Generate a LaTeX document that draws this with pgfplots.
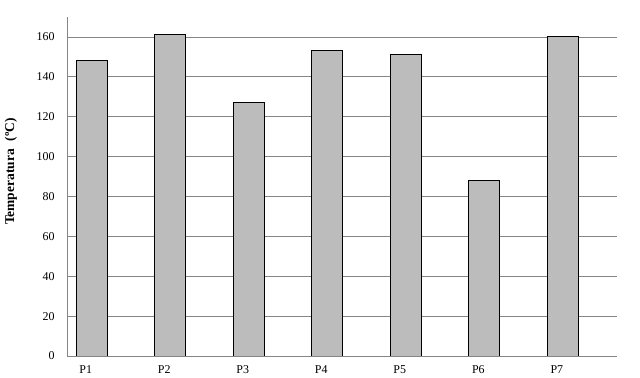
\documentclass[border=0pt]{standalone}
\usepackage{fontspec}
\setmainfont{Liberation Serif}
\usepackage{pgfplots}
\pgfplotsset{compat=1.18}
\definecolor{barfill}{RGB}{188,188,188}
\definecolor{gridc}{RGB}{134,134,134}
\begin{document}
\begin{tikzpicture}
\begin{axis}[
  scale only axis,
  width=550bp, height=339bp,
  xmin=-0.315, xmax=6.69,
  ymin=0, ymax=170,
  ytick={0,20,...,160},
  xtick={0,...,6},
  xticklabels={P1,P2,P3,P4,P5,P6,P7},
  axis x line*=bottom,
  axis y line*=left,
  axis line style={gridc, line width=0.8pt},
  ymajorgrids,
  grid style={gridc, line width=0.8pt},
  major tick length=0pt,
  tick style={draw=none},
  ticklabel style={font=\fontsize{12}{14}\selectfont},
  /pgf/number format/assume math mode=true,
  yticklabel style={xshift=-9bp},
  xticklabel style={yshift=-6.5bp, xshift=-6bp},
  ybar, bar width=31bp,
]
\addplot[fill=barfill, draw=black, line width=1pt] coordinates {
  (0,148) (1,161) (2,127) (3,153) (4,151) (5,88) (6,160)
};
\end{axis}
\node[rotate=90, font=\fontsize{13.5}{15}\selectfont\bfseries, inner sep=0pt] at ([shift={(-56bp,15bp)}]current axis.west) {Temperatura\hspace{0.6em}(\textordmasculine C)};
\path[use as bounding box] ([shift={(-67bp,-22bp)}]current axis.south west) rectangle ([shift={(23bp,17bp)}]current axis.north east);
\end{tikzpicture}
\end{document}
